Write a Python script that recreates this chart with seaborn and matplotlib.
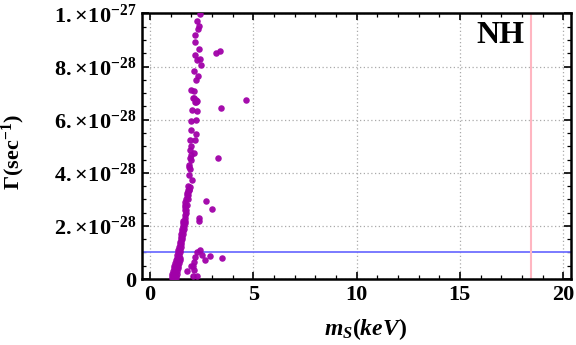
import numpy as np
import pandas as pd
import matplotlib
matplotlib.use("Agg")
import matplotlib.pyplot as plt
from matplotlib.ticker import FixedLocator, FixedFormatter, MultipleLocator
import seaborn as sns

# ---- data (m_S in keV, Gamma in units of 1e-28 s^-1) ----
band_ms = [1.82, 1.88, 1.80, 1.78, 1.85, 1.76, 1.82, 1.72, 1.70, 1.78, 1.72, 1.70, 1.76,
           1.74, 1.72, 1.70, 1.62, 1.70, 1.60, 1.68, 1.58, 1.65, 1.56, 1.63, 1.55, 1.60,
           1.52, 1.58, 1.50, 1.56, 1.48, 1.54, 1.45, 1.52, 1.43, 1.50, 1.40, 1.48, 1.38,
           1.46, 1.35, 1.44, 1.32, 1.42, 1.30, 1.40, 1.46, 1.26, 1.36, 1.44, 1.22, 1.32,
           1.40, 1.18, 1.28, 1.38, 1.14, 1.24, 1.34, 1.12, 1.22, 1.32, 1.08, 1.18, 1.30,
           1.06, 1.16, 1.28, 1.05, 1.15, 1.25]
band_gamma = [3.35, 3.35, 3.25, 3.15, 3.15, 3.00, 3.00, 2.90, 2.80, 2.80, 2.70, 2.60, 2.60,
              2.50, 2.40, 2.30, 2.20, 2.20, 2.10, 2.10, 2.00, 2.00, 1.90, 1.90, 1.80, 1.80,
              1.70, 1.70, 1.60, 1.60, 1.50, 1.50, 1.40, 1.40, 1.30, 1.30, 1.20, 1.20, 1.10,
              1.10, 1.00, 1.00, 0.90, 0.90, 0.80, 0.80, 0.80, 0.70, 0.70, 0.70, 0.60, 0.60,
              0.60, 0.50, 0.50, 0.50, 0.40, 0.40, 0.40, 0.30, 0.30, 0.30, 0.20, 0.20, 0.20,
              0.10, 0.10, 0.10, 0.03, 0.03, 0.03]

spread_ms = [2.42, 2.27, 2.38, 2.33, 2.17, 2.17, 2.37, 3.19, 3.38, 2.17, 2.30, 2.43, 2.46,
             2.13, 2.33, 2.22, 2.01, 2.14, 2.06, 2.14, 2.22, 2.30, 2.16, 2.25,
             4.64, 3.43, 2.03, 2.30, 1.98, 2.25, 1.98, 2.22, 1.95, 2.17, 1.98, 1.95, 2.12,
             1.98, 1.94, 2.00, 3.27, 1.88, 1.90, 1.95, 1.87, 2.03, 1.82, 1.93, 1.88, 1.82,
             2.70, 2.98, 2.35, 2.38,
             2.42, 2.27, 2.51, 2.90, 3.50, 2.66, 2.19, 2.14, 2.08, 1.98, 1.79, 2.14, 2.06, 2.30]
spread_gamma = [9.97, 9.71, 9.52, 9.40, 9.18, 8.94, 8.65, 8.50, 8.60, 8.43, 8.26, 8.29, 8.05,
                7.82, 7.66, 7.48, 7.10, 7.07, 6.80, 6.83, 6.75, 6.72, 6.65, 6.68,
                6.73, 6.43, 6.35, 6.31, 5.94, 6.00, 5.62, 5.45, 5.22, 5.25, 5.00, 4.84, 4.74,
                4.68, 4.55, 4.49, 4.54, 4.30, 4.20, 4.15, 3.90, 3.71, 3.50, 3.45, 3.35, 3.28,
                2.92, 2.65, 2.29, 2.19,
                1.09, 1.00, 0.91, 0.88, 0.79, 0.72, 0.84, 0.65, 0.49, 0.50, 0.31, 0.34, 0.11, 0.11]

gamma_limit = 1.0e-28      # horizontal bound
ms_limit = 18.42           # vertical bound (keV)

x_ticks = [0, 5, 10, 15, 20]
x_ticklabels = ["0", "5", "10", "15", "20"]
y_ticks = [0, 2e-28, 4e-28, 6e-28, 8e-28, 1e-27]
y_ticklabels = ["0", r"$2.\!\times\!10^{-28}$", r"$4.\!\times\!10^{-28}$", r"$6.\!\times\!10^{-28}$",
                r"$8.\!\times\!10^{-28}$", r"$1.\!\times\!10^{-27}$"]

df = pd.DataFrame({
    "ms": band_ms + spread_ms,
    "gamma": np.array(band_gamma + spread_gamma) * 1e-28,
})

# ---- style ----
sns.set_style("ticks")
plt.rcParams["font.family"] = ["Liberation Serif", "DejaVu Serif"]
plt.rcParams["font.weight"] = "bold"
plt.rcParams["text.color"] = "black"
plt.rcParams["axes.labelcolor"] = "black"
plt.rcParams["xtick.color"] = "black"
plt.rcParams["ytick.color"] = "black"
plt.rcParams["mathtext.fontset"] = "custom"
plt.rcParams["mathtext.rm"] = "Liberation Serif:bold"
plt.rcParams["mathtext.bf"] = "Liberation Serif:bold"
plt.rcParams["mathtext.it"] = "Liberation Serif:bold:italic"

fig = plt.figure(figsize=(5.76, 3.45), dpi=100)
ax = fig.add_axes([0.246, 0.1913, 0.745, 0.7697])

purple = "#a000a8"
sns.scatterplot(data=df, x="ms", y="gamma", ax=ax, color=purple, s=22,
                linewidth=0, alpha=0.95, zorder=3, legend=False)

ax.axhline(gamma_limit, color="#7070ff", lw=1.3, zorder=2)
ax.axvline(ms_limit, color="#ffb6c1", lw=1.5, zorder=2)

ax.set_xlim(-0.4, 20.37)
ax.set_ylim(0, 1.0e-27)

ax.xaxis.set_major_locator(FixedLocator(x_ticks))
ax.xaxis.set_major_formatter(FixedFormatter(x_ticklabels))
ax.xaxis.set_minor_locator(MultipleLocator(1))
ax.yaxis.set_major_locator(FixedLocator(y_ticks))
ax.yaxis.set_major_formatter(FixedFormatter(y_ticklabels))
ax.yaxis.set_minor_locator(MultipleLocator(0.5e-28))

ax.tick_params(which="both", direction="in", top=True, right=True, color="black")
ax.tick_params(which="major", length=5, width=1.2, labelsize=16, pad=4)
ax.tick_params(which="minor", length=3, width=0.9)

for lab in ax.get_xticklabels() + ax.get_yticklabels():
    lab.set_fontweight("bold")

ax.grid(True, which="major", color="#aaaaaa", linestyle=(0, (1, 2)), linewidth=0.9, zorder=1)
for s in ax.spines.values():
    s.set_linewidth(1.8)
    s.set_color("black")

ax.set_xlabel(r"$m_S(keV)$", fontsize=17, labelpad=2)
ax.xaxis.set_label_coords(0.522, -0.14)
ax.set_ylabel(r"$\Gamma(\mathrm{sec}^{-1})$", fontsize=16, fontweight="bold", labelpad=4)
ax.yaxis.set_label_coords(-0.267, 0.477)

ax.text(0.835, 0.916, "NH", transform=ax.transAxes, fontsize=23, fontweight="bold",
        ha="center", va="center", family="Liberation Serif")

fig.savefig("out.png", dpi=100)
